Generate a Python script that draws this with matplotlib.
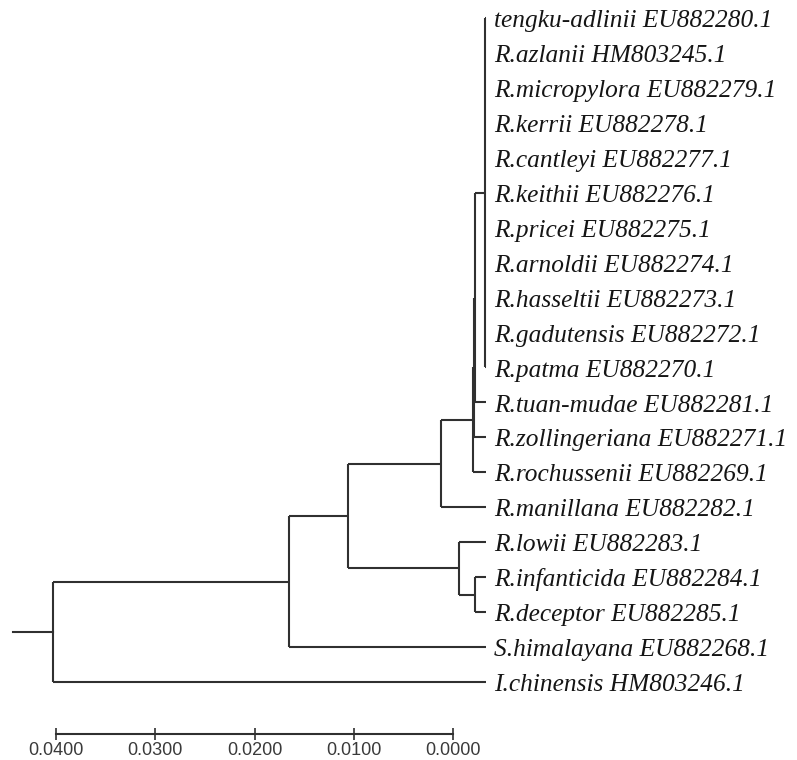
import matplotlib.pyplot as plt

# 잎(taxa) 순서 - 위에서 아래로
leaves = [
    "tengku-adlinii EU882280.1",
    "R.azlanii HM803245.1",
    "R.micropylora EU882279.1",
    "R.kerrii EU882278.1",
    "R.cantleyi EU882277.1",
    "R.keithii EU882276.1",
    "R.pricei EU882275.1",
    "R.arnoldii EU882274.1",
    "R.hasseltii EU882273.1",
    "R.gadutensis EU882272.1",
    "R.patma EU882270.1",
    "R.tuan-mudae EU882281.1",
    "R.zollingeriana EU882271.1",
    "R.rochussenii EU882269.1",
    "R.manillana EU882282.1",
    "R.lowii EU882283.1",
    "R.infanticida EU882284.1",
    "R.deceptor EU882285.1",
    "S.himalayana EU882268.1",
    "I.chinensis HM803246.1",
]

# 내부 노드: 이름, 자식, 높이(거리)
node_ids = ["root", "A", "B", "E", "F", "F2", "F3", "G", "C", "D"]
node_children = [
    ["A", "I.chinensis HM803246.1"],
    ["B", "S.himalayana EU882268.1"],
    ["E", "C"],
    ["F", "R.manillana EU882282.1"],
    ["F2", "R.rochussenii EU882269.1"],
    ["F3", "R.zollingeriana EU882271.1"],
    ["G", "R.tuan-mudae EU882281.1"],
    leaves[0:11],
    ["R.lowii EU882283.1", "D"],
    ["R.infanticida EU882284.1", "R.deceptor EU882285.1"],
]
node_heights = [0.0436, 0.0198, 0.0139, 0.0045, 0.0013, 0.0012, 0.0011, 0.0001, 0.0027, 0.0011]
root_stub = 0.0041

# 스케일 바
scale_ticks = [0.04, 0.03, 0.02, 0.01, 0.0]

LINE = "#303030"

heights = dict(zip(node_ids, node_heights))
children = dict(zip(node_ids, node_children))
ypos = {name: i for i, name in enumerate(leaves)}
for name in leaves:
    heights[name] = 0.0

def get_y(n):
    if n not in ypos:
        ch = children[n]
        ypos[n] = (get_y(ch[0]) + get_y(ch[-1])) / 2
    return ypos[n]

for n in node_ids:
    get_y(n)

fig = plt.figure(figsize=(7.97, 7.60), dpi=100)
ax = fig.add_axes([0, 0, 1, 1])
px = 9925.0  # 픽셀 / 거리 단위
ax.set_xlim(486 / px, (486 - 797) / px)
row = 664 / 19
ax.set_ylim((760 - 18) / row, -18 / row)
ax.axis("off")

# 가지 그리기
for n in node_ids:
    h = heights[n]
    ch = children[n]
    ax.plot([h, h], [ypos[ch[0]], ypos[ch[-1]]], color=LINE, lw=1.5, solid_capstyle="butt")
    for c in ch:
        ax.plot([h, heights[c]], [ypos[c], ypos[c]], color=LINE, lw=1.5, solid_capstyle="butt")

ax.plot([heights["root"] + root_stub, heights["root"]], [ypos["root"]] * 2, color=LINE, lw=1.5)

# 라벨
for i, name in enumerate(leaves):
    ax.text(-0.0008, i + 0.26, name, fontsize=18.3, fontstyle="italic",
            family="Liberation Serif", va="baseline", ha="left", color="#151515")

# 스케일 바 축
sax = fig.add_axes([56 / 797, (760 - 734) / 760, (453 - 56) / 797, 0.01])
sax.set_xlim(scale_ticks[0], scale_ticks[-1])
sax.set_xticks(scale_ticks)
sax.set_xticklabels([f"{t:.4f}" for t in scale_ticks], family="Liberation Sans", fontsize=13, color="#3a3a3a")
sax.set_yticks([])
for s in ["top", "left", "right"]:
    sax.spines[s].set_visible(False)
sax.spines["bottom"].set_color(LINE)
sax.spines["bottom"].set_linewidth(1.5)
sax.tick_params(axis="x", direction="inout", length=9, width=1.2, color=LINE, pad=1)
sax.patch.set_alpha(0)

plt.savefig("out.png")
